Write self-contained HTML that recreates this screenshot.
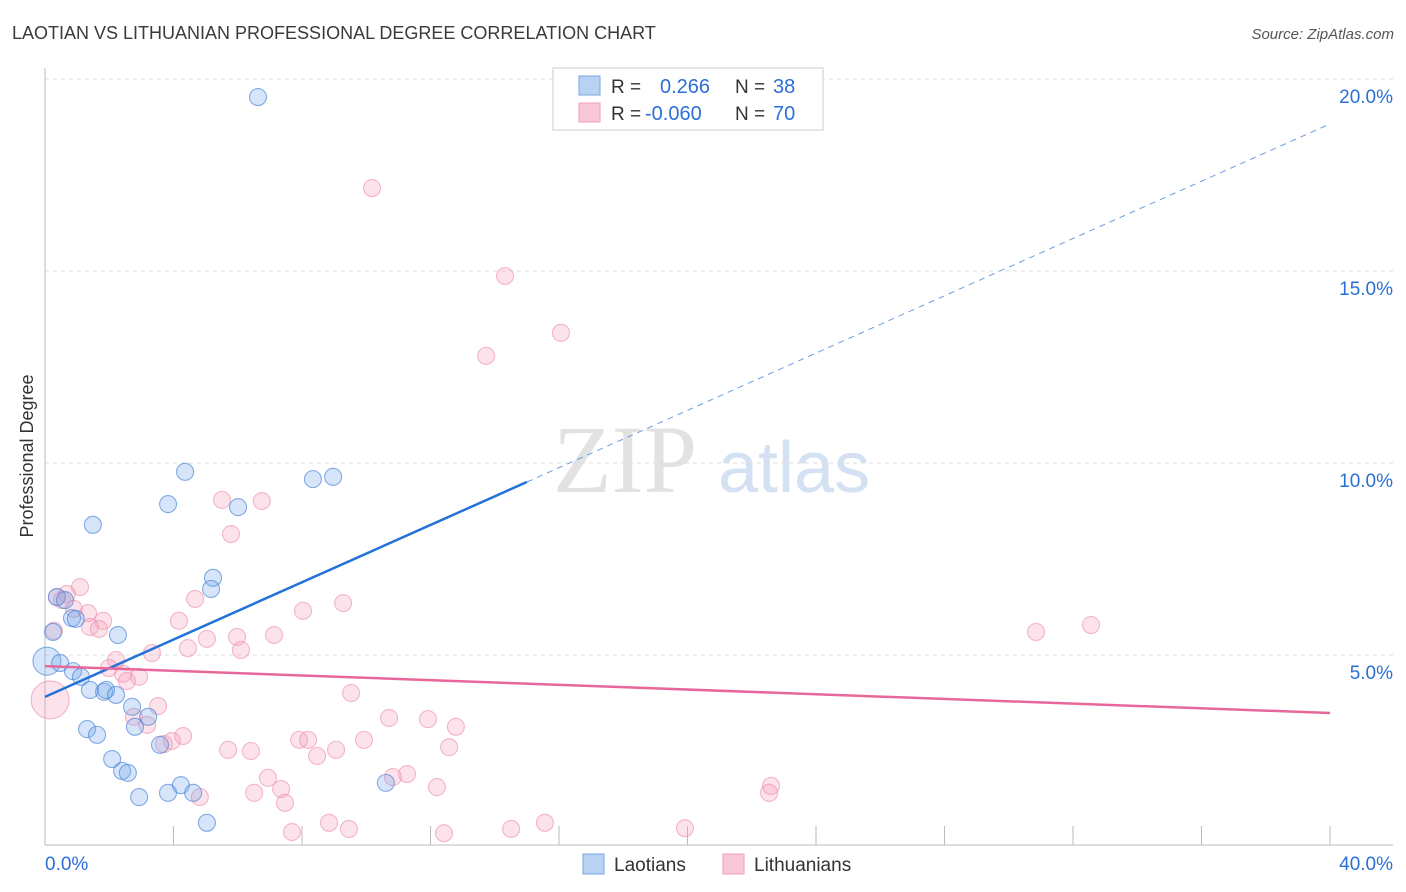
<!DOCTYPE html>
<html><head><meta charset="utf-8"><style>
body{margin:0;background:#fff;font-family:"Liberation Sans",sans-serif;}
#wrap{position:relative;width:1406px;height:892px;overflow:hidden;}
</style></head><body>
<div id="wrap">
<svg id="svg" width="1406" height="892" xmlns="http://www.w3.org/2000/svg">
<text x="12" y="39" font-size="18" fill="#3a3a3a">LAOTIAN VS LITHUANIAN PROFESSIONAL DEGREE CORRELATION CHART</text>
<text x="1394" y="39" font-size="15" fill="#555" font-style="italic" text-anchor="end">Source: ZipAtlas.com</text>
<text x="33" y="456" font-size="18" fill="#333" text-anchor="middle" transform="rotate(-90 33 456)">Professional Degree</text>
<g><text x="553" y="492" font-size="96" font-family="Liberation Serif,serif" fill="#e2e2e2">ZIP</text><text x="718" y="492" font-size="72" fill="#d3e1f3">atlas</text></g>
<g id="grid"></g><g id="axes"></g><g id="marks"></g>
<g>
<rect x="553" y="68" width="270" height="62" fill="#fff" stroke="#ccc"/>
<rect x="579" y="76" width="21" height="19" fill="#b8d2f4" stroke="#7aa7e0"/>
<rect x="579" y="103" width="21" height="19" fill="#f9c8d6" stroke="#f0a0b8"/>
<text x="611" y="93" font-size="19" fill="#333">R =</text><text x="660" y="93" font-size="20" fill="#2c6fd6">0.266</text>
<text x="735" y="93" font-size="19" fill="#333">N =</text><text x="773" y="93" font-size="20" fill="#2c6fd6">38</text>
<text x="611" y="120" font-size="19" fill="#333">R =</text><text x="645" y="120" font-size="20" fill="#2c6fd6">-0.060</text>
<text x="735" y="120" font-size="19" fill="#333">N =</text><text x="773" y="120" font-size="20" fill="#2c6fd6">70</text>
</g>
<g>
<rect x="583" y="854" width="21" height="20" fill="#b8d2f4" stroke="#7aa7e0"/>
<text x="614" y="871" font-size="19" fill="#333">Laotians</text>
<rect x="723" y="854" width="21" height="20" fill="#f9c8d6" stroke="#f0a0b8"/>
<text x="754" y="871" font-size="19" fill="#333">Lithuanians</text>
</g>
</svg></div>
<script>
const blueX=[6.63,4.36,3.83,8.34,8.97,1.49,6.01,5.23,5.17,0.37,0.62,0.84,0.96,2.27,0.25,0.06,0.47,0.87,1.12,1.40,1.84,1.90,2.21,2.71,3.21,2.80,1.31,1.62,3.58,2.09,2.40,2.58,4.23,3.83,2.93,4.61,5.04,10.61];
const blueY=[19.53,9.77,8.93,9.58,9.64,8.39,8.85,7.01,6.72,6.51,6.43,5.96,5.94,5.52,5.60,4.84,4.79,4.58,4.43,4.09,4.04,4.09,3.96,3.65,3.39,3.13,3.07,2.92,2.66,2.29,1.98,1.93,1.61,1.41,1.30,1.41,0.63,1.67];
const pinkX=[10.18,14.32,16.06,13.73,5.51,6.75,5.79,1.09,0.68,0.37,0.53,0.90,1.34,1.81,1.40,1.68,0.28,4.67,4.17,8.03,9.28,5.04,5.98,7.13,4.45,6.10,3.33,2.21,1.99,2.43,2.93,2.55,0.16,9.53,3.52,2.77,3.18,10.71,11.92,12.79,4.30,3.95,3.70,5.70,6.41,7.91,8.19,8.47,9.06,9.93,12.58,6.94,11.27,10.83,7.35,6.51,12.20,4.82,7.47,22.60,22.54,7.69,8.84,9.46,12.42,14.51,15.56,19.92,30.85,32.56];
const pinkY=[17.16,14.87,13.39,12.79,9.04,9.01,8.15,6.77,6.59,6.51,6.43,6.20,6.09,5.89,5.73,5.68,5.63,6.46,5.89,6.15,6.35,5.42,5.47,5.52,5.18,5.13,5.05,4.87,4.66,4.51,4.43,4.32,3.83,4.01,3.67,3.39,3.18,3.36,3.33,3.13,2.89,2.76,2.68,2.53,2.50,2.79,2.79,2.37,2.53,2.79,2.60,1.80,1.90,1.82,1.51,1.41,1.56,1.30,1.15,1.59,1.41,0.39,0.63,0.47,0.36,0.47,0.63,0.49,5.60,5.78];
const yTicks=[5,10,15,20];
const xTicks=[0,4,8,12,16,20,24,28,32,36,40];
const blueTrend=[3.91,0.373];
const pinkTrend=[4.71,-0.0305];
const NS="http://www.w3.org/2000/svg";
const sx=v=>45+v*32.125, sy=v=>847-v*38.4;
function mk(t,a,p){const e=document.createElementNS(NS,t);for(const k in a)e.setAttribute(k,a[k]);document.getElementById(p).appendChild(e);return e;}
yTicks.forEach(v=>{
 const l=mk('line',{x1:45,x2:1393,y1:sy(v),y2:sy(v),stroke:'#ddd','stroke-dasharray':'4,4'},'grid');
 
 
 const t=mk('text',{x:1393,y:sy(v)+24,'font-size':19,fill:'#2c6fd6','text-anchor':'end'},'grid');
 t.textContent=v.toFixed(1)+'%';
 
 
});
mk('line',{x1:45,x2:45,y1:68,y2:845,stroke:'#bbb'},'axes');
mk('line',{x1:45,x2:1393,y1:845,y2:845,stroke:'#bbb'},'axes');
xTicks.forEach(v=>{
 const l=mk('line',{x1:sx(v),x2:sx(v),y1:826,y2:845,stroke:'#bbb'},'axes');
 
 
});
[[0,'0.0%','start',45],[40,'40.0%','end',1393]].forEach(d=>{
 const t=mk('text',{x:d[3],y:870,'font-size':19,fill:'#2c6fd6','text-anchor':d[2]},'axes');
 t.textContent=d[1];
 
 
});
pinkX.forEach((x,i)=>{
 const big=(x<0.2&&pinkY[i]<4);
 const c=mk('circle',{cx:sx(x),cy:sy(pinkY[i]),r:big?19:8.5,fill:'rgba(244,160,186,0.3)',stroke:'rgba(236,140,170,0.6)','stroke-width':1.1},'marks');
 
 
});
blueX.forEach((x,i)=>{
 const big=(x<0.1);
 const c=mk('circle',{cx:sx(x),cy:sy(blueY[i]),r:big?14:8.5,fill:'rgba(120,170,235,0.3)',stroke:'rgba(70,130,215,0.65)','stroke-width':1.1},'marks');
 
 
});
const b1=mk('line',{x1:sx(0),y1:sy(blueTrend[0]),x2:sx(15),y2:sy(blueTrend[0]+15*blueTrend[1]),stroke:'#2372d9','stroke-width':2.5},'marks');


const b2=mk('line',{x1:sx(15),y1:sy(blueTrend[0]+15*blueTrend[1]),x2:sx(40),y2:sy(blueTrend[0]+40*blueTrend[1]),stroke:'#6b9de0','stroke-width':1,'stroke-dasharray':'6,5'},'marks');


const p1=mk('line',{x1:sx(0),y1:sy(pinkTrend[0]),x2:sx(40),y2:sy(pinkTrend[0]+40*pinkTrend[1]),stroke:'#e8679a','stroke-width':2.5},'marks');


</script>
</body></html>
